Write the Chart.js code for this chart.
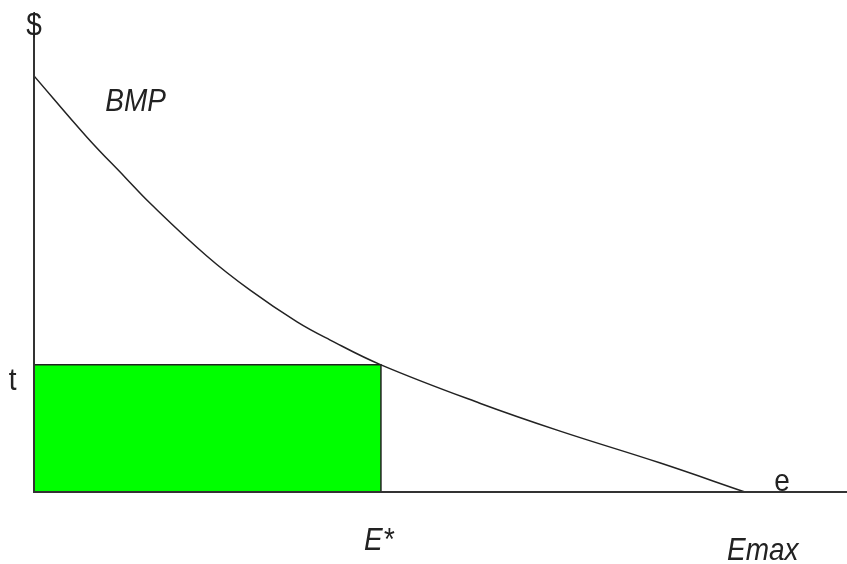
<!DOCTYPE html>
<html>
<head>
<meta charset="utf-8">
<script src="https://cdn.jsdelivr.net/npm/chart.js@4/dist/chart.umd.min.js"></script>
<style>
  html, body { margin: 0; padding: 0; background: #fff; }
  canvas { display: block; }
</style>
</head>
<body>
<canvas id="bmpChart" width="847" height="564"></canvas>
<script>
// BMP curve (emissions E on x, $ on y)
const bmpX = [0, 7.45, 12.8, 16.3, 24.3, 30.4, 37.0, 41.6, 48.8, 62.7, 74.0, 88.0, 100];
const bmpY = [99.8, 85.1, 75.5, 69.3, 56.6, 48.4, 40.8, 36.5, 30.5, 21.3, 14.6, 7.0, 0];

// tax level t and chosen emissions E*
const tax = 30.5;
const eStar = 48.8;

// text labels placed in data units
const labelText = ["$", "BMP", "t", "E*", "Emax", "e"];
const labelX = [0, 14.3, -3.0, 48.5, 102.5, 105.2];
const labelY = [109.6, 91.4, 24.5, -13.9, -16.3, 0.24];
const labelItalic = [false, true, false, true, true, false];

const xMax = 114.35;
const yMax = 114.4;

// axes + labels drawn on top of the chart area
const axesAndLabels = {
  id: "axesAndLabels",
  afterDatasetsDraw(chart) {
    const { ctx, chartArea, scales } = chart;
    ctx.save();
    ctx.strokeStyle = "#333";
    ctx.lineWidth = 2;
    ctx.beginPath();
    ctx.moveTo(chartArea.left, chartArea.top);
    ctx.lineTo(chartArea.left, chartArea.bottom);
    ctx.lineTo(chartArea.right, chartArea.bottom);
    ctx.stroke();

    ctx.fillStyle = "#222";
    ctx.textAlign = "center";
    ctx.textBaseline = "alphabetic";
    labelText.forEach((txt, i) => {
      const px = scales.x.getPixelForValue(labelX[i]);
      const py = scales.y.getPixelForValue(labelY[i]);
      ctx.save();
      ctx.translate(px, py);
      ctx.scale(1, 1.15); // original text is a bit stretched vertically
      ctx.font = (labelItalic[i] ? "italic " : "") + "28px 'Liberation Sans', Arial, sans-serif";
      ctx.fillText(txt, 0, 0);
      ctx.restore();
    });
    ctx.restore();
  }
};

new Chart(document.getElementById("bmpChart"), {
  type: "line",
  data: {
    datasets: [
      {
        // green area t * E*
        data: [{ x: 0, y: tax }, { x: eStar, y: tax }, { x: eStar, y: 0 }],
        borderColor: "#222",
        borderWidth: 1.5,
        backgroundColor: "#00ff00",
        fill: "origin",
        pointRadius: 0,
        tension: 0
      },
      {
        data: bmpX.map((x, i) => ({ x, y: bmpY[i] })),
        borderColor: "#222",
        borderWidth: 1.5,
        fill: false,
        pointRadius: 0,
        tension: 0.4
      }
    ]
  },
  options: {
    responsive: false,
    animation: false,
    layout: { padding: { left: 34, top: 15, right: 0, bottom: 72 } },
    plugins: { legend: { display: false }, tooltip: { enabled: false } },
    scales: {
      x: { type: "linear", min: 0, max: xMax, display: false },
      y: { type: "linear", min: 0, max: yMax, display: false }
    }
  },
  plugins: [axesAndLabels]
});
</script>
</body>
</html>
